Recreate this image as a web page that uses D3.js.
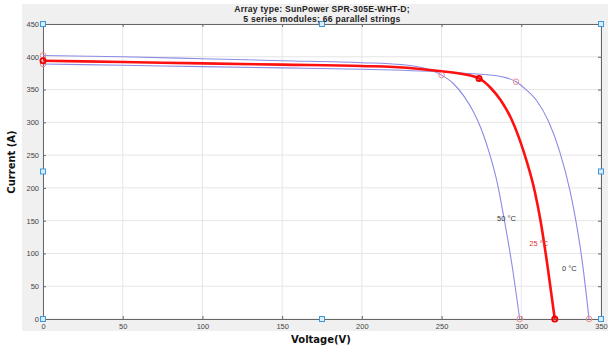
<!DOCTYPE html>
<html>
<head>
<meta charset="utf-8">
<script src="https://cdn.jsdelivr.net/npm/d3@7"></script>
<style>
  body { margin: 0; background: #fff; }
  text { font-family: "Liberation Sans", Arial, sans-serif; }
</style>
</head>
<body>
<svg width="608" height="350"></svg>
<script>
// data
const titleLines = ['Array type: SunPower SPR-305E-WHT-D;', '5 series modules; 66 parallel strings'];
const xTicks = [0, 50, 100, 150, 200, 250, 300, 350];
const yTicks = [0, 50, 100, 150, 200, 250, 300, 350, 400, 450];

// 50 °C
const v50 = [0, 50, 100, 150, 200, 225, 240, 250, 257, 264, 270, 275, 280, 285, 289, 294, 299];
const i50 = [402, 400, 397, 394, 391, 388, 382, 372, 360, 340, 316, 289, 253, 207, 156, 85, 0];
// 25 °C
const v25 = [0, 50, 100, 150, 200, 230, 250, 262, 273.5, 281, 287, 294, 301, 308.6, 312, 316.5, 321];
const i25 = [394, 392, 390, 388, 386, 383, 378, 374, 367, 352, 334, 304, 259, 193, 151, 80, 0];
// 0 °C
const v0 = [0, 50, 100, 150, 200, 250, 270, 287, 296.7, 303, 309.7, 317, 324, 330.6, 334, 338, 342.5];
const i0 = [389, 387, 385, 383, 381, 377, 374, 370, 362, 350, 333, 302, 256, 195, 153, 92, 0];

// Isc, MPP, Voc markers
const mark50 = [[0, 402], [250, 372], [299, 0]];
const mark25 = [[0, 394], [273.5, 367], [321, 0]];
const mark0 = [[0, 389], [296.7, 362], [342.5, 0]];

// blue squares of the XY graph
const squares = [[0, 0], [0, 225], [0, 450], [175, 0], [175, 450], [350, 0], [350, 225], [350, 450]];

const labels = [
  {v: 284.8, i: 149, t: '50 °C', c: '#333'},
  {v: 305, i: 111, t: '25 °C', c: '#e53030'},
  {v: 325.6, i: 73, t: '0 °C', c: '#333'}
];

const svg = d3.select('svg');
const mL = 43, mR = 601, mT = 24, mB = 319;

const x = d3.scaleLinear().domain([0, 350]).range([mL, mR]);
const y = d3.scaleLinear().domain([0, 450]).range([mB, mT]);

// grey figure panel
svg.append('rect').attr('x', 22).attr('y', 4).attr('width', 586).attr('height', 327).attr('fill', '#f0f0f0');
svg.append('rect').attr('x', mL).attr('y', mT).attr('width', mR - mL).attr('height', mB - mT).attr('fill', '#fff');

// grid
svg.append('g').selectAll('line').data(xTicks).join('line')
  .attr('x1', d => x(d)).attr('x2', d => x(d)).attr('y1', mT).attr('y2', mB)
  .attr('stroke', '#e6e6e6').attr('stroke-width', 1);
svg.append('g').selectAll('line').data(yTicks).join('line')
  .attr('y1', d => y(d)).attr('y2', d => y(d)).attr('x1', mL).attr('x2', mR)
  .attr('stroke', '#e6e6e6').attr('stroke-width', 1);

// axes, ticks inside like matlab
const axB = svg.append('g').attr('transform', `translate(0,${mB})`)
  .call(d3.axisBottom(x).tickValues(xTicks).tickSizeInner(-3).tickSizeOuter(0).tickPadding(5));
const axL = svg.append('g').attr('transform', `translate(${mL},0)`)
  .call(d3.axisLeft(y).tickValues(yTicks).tickSizeInner(-3).tickSizeOuter(0).tickPadding(4));
const axT = svg.append('g').attr('transform', `translate(0,${mT})`)
  .call(d3.axisTop(x).tickValues(xTicks).tickSizeInner(-3).tickSizeOuter(0).tickFormat(''));
const axR = svg.append('g').attr('transform', `translate(${mR},0)`)
  .call(d3.axisRight(y).tickValues(yTicks).tickSizeInner(-3).tickSizeOuter(0).tickFormat(''));
[axB, axL, axT, axR].forEach(a => {
  a.select('.domain').attr('stroke', '#666');
  a.selectAll('.tick line').attr('stroke', '#666');
  a.selectAll('text').attr('fill', '#444').style('font-size', '7.5px');
});

const line = d3.line()
  .x(d => x(d[0]))
  .y(d => y(d[1]))
  .curve(d3.curveMonotoneX);

const zip = (a, b) => a.map((v, k) => [v, b[k]]);

svg.append('path').attr('d', line(zip(v50, i50))).attr('fill', 'none').attr('stroke', '#8b8be6').attr('stroke-width', 1.1);
svg.append('path').attr('d', line(zip(v0, i0))).attr('fill', 'none').attr('stroke', '#8b8be6').attr('stroke-width', 1.1);
svg.append('path').attr('d', line(zip(v25, i25))).attr('fill', 'none').attr('stroke', '#ff1010').attr('stroke-width', 2.6);

svg.append('g').selectAll('circle').data(mark50.concat(mark0)).join('circle')
  .attr('cx', d => x(d[0])).attr('cy', d => y(d[1])).attr('r', 2.8)
  .attr('fill', 'none').attr('stroke', '#f08a8a').attr('stroke-width', 1);
svg.append('g').selectAll('circle').data(mark25).join('circle')
  .attr('cx', d => x(d[0])).attr('cy', d => y(d[1])).attr('r', 2.6)
  .attr('fill', 'none').attr('stroke', '#ee0000').attr('stroke-width', 1.8);

svg.append('g').selectAll('rect').data(squares).join('rect')
  .attr('x', d => x(d[0]) - 2.5).attr('y', d => y(d[1]) - 2.5).attr('width', 5).attr('height', 5)
  .attr('fill', '#d8ecfa').attr('stroke', '#3d9ad8').attr('stroke-width', 1);

svg.append('g').selectAll('text').data(labels).join('text')
  .attr('x', d => x(d.v)).attr('y', d => y(d.i))
  .attr('fill', d => d.c).style('font-size', '7.5px')
  .text(d => d.t);

// title
svg.append('g').selectAll('text').data(titleLines).join('text')
  .attr('x', 322).attr('y', (d, k) => 11.5 + k * 10)
  .attr('text-anchor', 'middle').style('font-size', '8.6px').style('font-weight', 'bold')
  .style('letter-spacing', '0.25px').attr('fill', '#222')
  .text(d => d);

svg.append('text').attr('x', 321).attr('y', 343).attr('text-anchor', 'middle')
  .style('font-family', '"DejaVu Sans"')
  .style('font-size', '10px').style('font-weight', 'bold').attr('fill', '#111').text('Voltage(V)');
svg.append('text').attr('transform', 'translate(15,162) rotate(-90)').attr('text-anchor', 'middle')
  .style('font-family', '"DejaVu Sans"')
  .style('font-size', '10px').style('font-weight', 'bold').attr('fill', '#111').text('Current (A)');
</script>
</body>
</html>
